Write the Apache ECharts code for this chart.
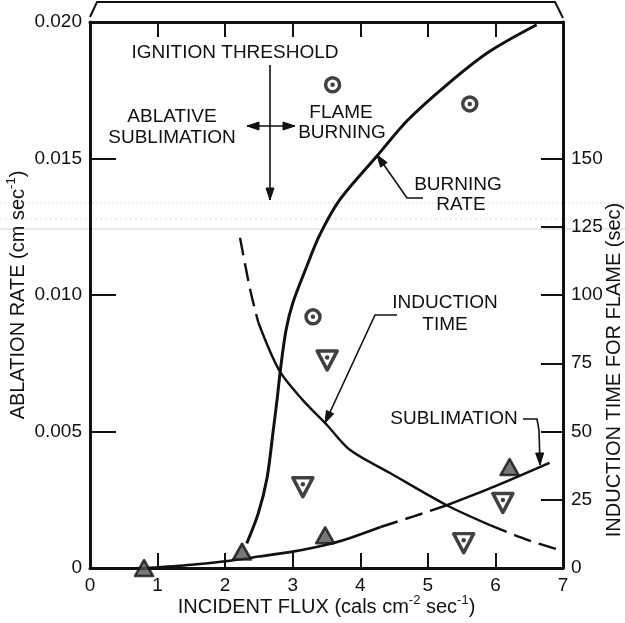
<!DOCTYPE html>
<html><head><meta charset="utf-8">
<script src="https://cdn.jsdelivr.net/npm/echarts@6/dist/echarts.min.js"></script>
<style>html,body{margin:0;padding:0;background:#fff}#c{width:625px;height:623px}</style>
</head><body><div id="c"></div>
<script>
// ---- data (x = incident flux, cals cm^-2 sec^-1) ----
const xTickValues = [0,1,2,3,4,5,6,7];
const leftTickValues = [0,0.005,0.010,0.015,0.020];
const rightTickValues = [0,25,50,75,100,125,150];

// Burning rate curve (ablation rate, cm/sec)
const burningRate = [[2.32,0.0009],[2.49,0.002],[2.62,0.0033],[2.71,0.0050],[2.77,0.0062],[2.82,0.0073],[2.90,0.0087],[3.0,0.0097],[3.2,0.0110],[3.4,0.0122],[3.7,0.0135],[4.25,0.0151],[4.7,0.0164],[5.28,0.0177],[5.9,0.0189],[6.61,0.0199]];
// Sublimation curve (ablation rate) – solid / dashed / solid
const sublimationSolidA = [[0.85,0.0],[1.5,0.00012],[2.0,0.00025],[2.5,0.00042],[3.0,0.0006],[3.5,0.00085],[3.85,0.0011],[4.3,0.0015]];
const sublimationDash = [[4.3,0.0015],[4.8,0.0019],[5.28,0.0023]];
const sublimationSolidB = [[5.28,0.0023],[6.0,0.0030],[6.8,0.00385]];
// Induction time curve (sec) – dashed / solid / dashed
const inductionDashA = [[2.22,121],[2.37,102],[2.49,90]];
const inductionSolid = [[2.49,90],[2.8,72.4],[3.15,61.5],[3.51,52.3],[3.85,43.2],[4.44,34.8],[5.28,23],[5.92,15.7]];
const inductionDashB = [[5.92,15.7],[6.45,10.5],[6.95,6.6]];
// Data points
const flameBurningPts = [[3.59,0.0177],[5.62,0.0170],[3.30,0.0092]];        // bullseye circles, left axis
const inductionPts = [[3.51,76],[3.15,29.6],[6.11,23.8],[5.53,9.1]];          // inverted triangles, right axis
const sublimationPts = [[0.8,0.0],[2.25,0.0006],[3.48,0.0012],[6.21,0.0037]]; // triangles, left axis

const FONT = '"Liberation Sans", Arial, Helvetica, sans-serif';
const INK = '#111';

const chart = echarts.init(document.getElementById('c'), null, {renderer:'canvas'});

function lineSeries(data, yIdx, dashed, width) {
  return {
    type:'line', data, xAxisIndex:0, yAxisIndex:yIdx, symbol:'none', smooth:0.3,
    silent:true, z:3,
    lineStyle:{color:INK, width:width, type: dashed ? [18,8] : 'solid', cap:'butt'}
  };
}

function arrowHead(from, to, len, half) {
  const dx = to[0]-from[0], dy = to[1]-from[1];
  const d = Math.hypot(dx,dy); const ux = dx/d, uy = dy/d;
  const bx = to[0]-ux*len, by = to[1]-uy*len;
  return [[to[0],to[1]],[bx-uy*half, by+ux*half],[bx+uy*half, by-ux*half]];
}
function poly(points, w) {
  return {type:'polyline', shape:{points}, style:{stroke:INK, lineWidth:w||1.6, fill:null}, z:10};
}
function head(from, to) {
  return {type:'polygon', shape:{points:arrowHead(from,to,12,4)}, style:{fill:INK, stroke:INK, lineWidth:1}, z:10};
}
function txt(t, x, y) {
  return {type:'text', x:0, y:0, z:10, style:{text:t, x, y, fill:INK, font:'19px '+FONT,
    align:'center', verticalAlign:'middle', textAlign:'center', textVerticalAlign:'middle'}};
}

const supRich = {
  n:{fontSize:20, fontFamily:FONT, color:INK, lineHeight:26},
  s:{fontSize:13, fontFamily:FONT, color:INK, lineHeight:13, verticalAlign:'top'}
};

const option = {
  backgroundColor:'#fff',
  animation:false,
  grid:{left:90, right:62, top:22, bottom:55, containLabel:false, outerBoundsMode:'none'},
  xAxis:[{
    type:'value', min:0, max:7, interval:1, position:'bottom',
    axisLine:{onZero:false, lineStyle:{color:INK, width:3}},
    axisTick:{inside:true, length:15, lineStyle:{color:INK, width:2}},
    axisLabel:{fontSize:19, color:INK, fontFamily:FONT, margin:8},
    splitLine:{show:false},
    name:'{n|INCIDENT FLUX (cals cm}{s|-2}{n| sec}{s|-1}{n|)}',
    nameLocation:'middle', nameGap:26, nameMoveOverlap:false,
    nameTextStyle:{rich:supRich}
  },{
    type:'value', min:0, max:7, interval:1, position:'top',
    axisLine:{onZero:false, lineStyle:{color:INK, width:3}},
    axisTick:{inside:true, length:15, lineStyle:{color:INK, width:2}},
    axisLabel:{show:false}, splitLine:{show:false}
  }],
  yAxis:[{
    type:'value', min:0, max:0.02, interval:0.005, position:'left',
    axisLine:{show:true, onZero:false, lineStyle:{color:INK, width:3}},
    axisTick:{show:true, inside:true, length:26, lineStyle:{color:INK, width:2}},
    axisLabel:{fontSize:19, color:INK, fontFamily:FONT, margin:8,
      formatter:v => v === 0 ? '0' : v.toFixed(3)},
    splitLine:{show:false},
    name:'{n|ABLATION RATE (cm sec}{s|-1}{n|)}',
    nameLocation:'middle', nameGap:59, nameRotate:90, nameMoveOverlap:false,
    nameTextStyle:{rich:supRich}
  },{
    type:'value', min:0, max:200, interval:25, position:'right',
    axisLine:{show:true, onZero:false, lineStyle:{color:INK, width:3}},
    axisTick:{show:true, inside:true, length:22, lineStyle:{color:INK, width:2}, customValues:rightTickValues},
    axisLabel:{fontSize:19, color:INK, fontFamily:FONT, margin:8, customValues:rightTickValues,
      formatter:v => v <= 150 ? String(v) : ''},
    splitLine:{show:false},
    name:'INDUCTION TIME FOR FLAME (sec)',
    nameLocation:'middle', nameGap:41, nameRotate:90, nameMoveOverlap:false,
    nameTextStyle:{fontSize:20, fontFamily:FONT, color:INK, padding:[0,150,0,0]}
  }],
  series:[
    lineSeries(burningRate, 0, false, 3),
    lineSeries(sublimationSolidA, 0, false, 2.6),
    lineSeries(sublimationDash, 0, true, 2.6),
    lineSeries(sublimationSolidB, 0, false, 2.6),
    lineSeries(inductionDashA, 1, true, 2.4),
    lineSeries(inductionSolid, 1, false, 2.4),
    lineSeries(inductionDashB, 1, true, 2.4),
    {type:'scatter', data:flameBurningPts, yAxisIndex:0, symbol:'circle', symbolSize:14, z:5,
      itemStyle:{color:'#fff', borderColor:INK, borderWidth:3.5}},
    {type:'scatter', data:flameBurningPts, yAxisIndex:0, symbol:'circle', symbolSize:4.5, z:6,
      itemStyle:{color:INK}},
    {type:'scatter', data:inductionPts, yAxisIndex:1, symbol:'triangle', symbolRotate:180, symbolSize:[20,19], z:5,
      itemStyle:{color:'#fff', borderColor:INK, borderWidth:3.5, borderJoin:'round'}},
    {type:'scatter', data:inductionPts, yAxisIndex:1, symbol:'circle', symbolSize:4.5, symbolOffset:[0,-3], z:6,
      itemStyle:{color:INK}},
    {type:'scatter', data:sublimationPts, yAxisIndex:0, symbol:'triangle', symbolSize:[18,16], z:5,
      itemStyle:{color:'#555', borderColor:INK, borderWidth:2.5, borderJoin:'round'}}
  ],
  graphic:[
    // top bracket
    poly([[90,17],[97,2],[555,2],[563,18]], 2),
    // scan lines
    {type:'line', shape:{x1:0,y1:203,x2:625,y2:203}, style:{stroke:'#ddd', lineWidth:1, lineDash:[2,2]}, z:0, silent:true},
    {type:'line', shape:{x1:0,y1:219,x2:625,y2:219}, style:{stroke:'#ddd', lineWidth:1, lineDash:[2,3]}, z:0, silent:true},
    {type:'line', shape:{x1:0,y1:229,x2:625,y2:229}, style:{stroke:'#d6d6d6', lineWidth:1}, z:0, silent:true},
    txt('IGNITION THRESHOLD', 235, 53),
    txt('ABLATIVE', 172, 117),
    txt('SUBLIMATION', 172, 138),
    txt('FLAME', 341, 113),
    txt('BURNING', 342, 133),
    txt('BURNING', 458, 185),
    txt('RATE', 461, 205),
    txt('INDUCTION', 445, 303),
    txt('TIME', 445, 325),
    txt('SUBLIMATION', 454, 419),
    // ignition threshold arrows
    poly([[270,65],[270,200]], 1.6), head([270,65],[270,200]),
    poly([[247,126],[295,126]], 1.6), head([270,126],[247,126]), head([270,126],[295,126]),
    // leaders
    poly([[423,198],[407,198],[377,155]]), head([407,198],[377,155]),
    poly([[397,315],[375,315],[325,423]]), head([375,315],[325,423]),
    poly([[523,419],[537,419],[539,430],[540,465]]), head([539,430],[540,465])
  ]
};
chart.setOption(option);
</script>
</body></html>
